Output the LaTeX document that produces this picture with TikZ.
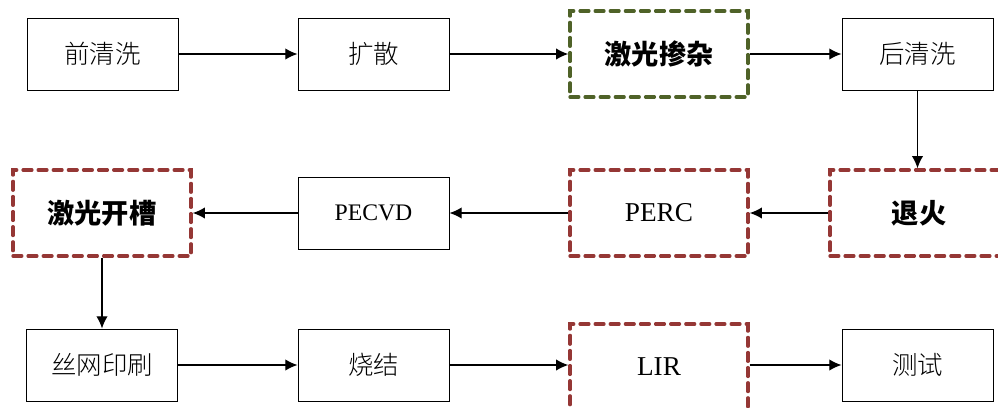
\documentclass[tikz,border=0pt]{standalone}
\usepackage{fontspec}
\usepackage{tikz}
\usetikzlibrary{arrows.meta,positioning}
\setmainfont{Liberation Serif}
\newfontfamily\cjk{Noto Sans CJK SC}
\newfontfamily\cjklight{Noto Sans CJK SC Light}
\definecolor{dopegreen}{RGB}{79,98,40}
\definecolor{laserred}{RGB}{149,55,53}

\begin{document}
\begin{tikzpicture}[x=0.02cm, y=-0.02cm,
        procbox/.style={draw, line width=0.5pt, minimum width=3.02cm, minimum height=1.44cm, inner sep=0pt, font=\cjklight\fontsize{14.5}{16}\selectfont},
        laserbox/.style={draw=laserred, line width=1.9pt, dash pattern=on 5pt off 3.6pt, line cap=round, minimum width=3.56cm, minimum height=1.72cm, inner sep=0pt, font=\cjk\bfseries\fontsize{15.5}{17}\selectfont},
        flow/.style={-{Latex[length=7pt, width=6.5pt]}, line width=0.8pt}]
    \useasboundingbox (0,0) rectangle (998,407);
        \node[procbox] (preclean) at (102.5,54) {前清洗};
        \node[procbox] (diffuse) at (373.5,54) {扩散};
        \node[laserbox, draw=dopegreen] (dope) at (659,54) {激光掺杂};
        \node[procbox] (postclean) at (917.5,54) {后清洗};
        \node[laserbox] (groove) at (102,213) {激光开槽};
        \node[procbox, font=\fontsize{13.5}{15}\selectfont] (pecvd) at (373.5,213) {PECVD};
        \node[laserbox, font=\fontsize{15.5}{17}\selectfont] (perc) at (659,213) {PERC};
        \node[laserbox] (anneal) at (919,213) {退火};
        \node[procbox] (print) at (102,365) {丝网印刷};
        \node[procbox] (sinter) at (373.5,365) {烧结};
        \node[laserbox, font=\fontsize{15.5}{17}\selectfont] (lir) at (659,367) {\raisebox{1pt}{LIR}};
        \node[procbox] (test) at (917.5,365) {测试};
        \draw[flow] (preclean) -- (diffuse);
        \draw[flow] (diffuse) -- (dope);
        \draw[flow] (dope) -- (postclean);
        \draw[flow] (postclean.south) -- (postclean.south |- anneal.north);
        \draw[flow] (anneal) -- (perc);
        \draw[flow] (perc) -- (pecvd);
        \draw[flow] (pecvd) -- (groove);
        \draw[flow] (groove) -- (print);
        \draw[flow] (print) -- (sinter);
        \draw[flow] (sinter.east) -- (sinter.east -| lir.west);
        \draw[flow] (lir.east |- test.west) -- (test.west);
\end{tikzpicture}
\end{document}
